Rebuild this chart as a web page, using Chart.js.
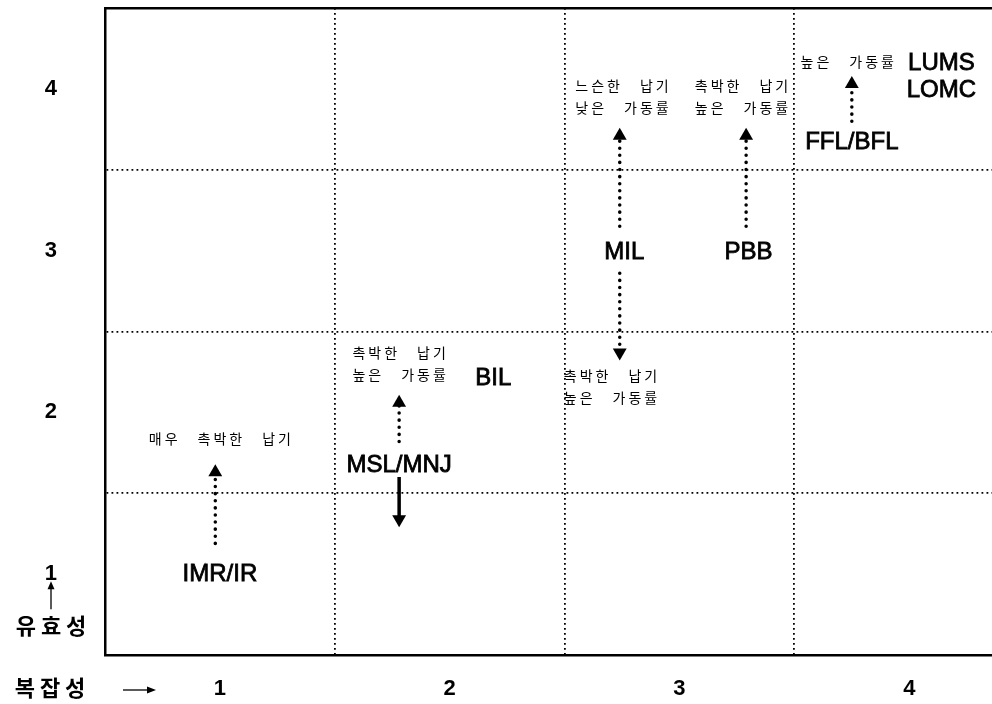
<!DOCTYPE html>
<html>
<head>
<meta charset="utf-8">
<script src="https://cdn.jsdelivr.net/npm/chart.js@4/dist/chart.umd.min.js"></script>
<style>
  html, body { margin: 0; padding: 0; background: #fff; overflow: hidden; }
  #wrap { width: 1000px; height: 704px; position: relative; }
</style>
</head>
<body>
<div id="wrap"><canvas id="c"></canvas></div>
<script>
// ---- data ----
const xTickLabels = ['1', '2', '3', '4'];
const yTickLabels = ['1', '2', '3', '4'];
const xAxisTitle = '복잡성';
const yAxisTitle = '유효성';

// object codes (Latin labels) at (complexity, effectiveness)
const codeLabels = ['IMR/IR', 'MSL/MNJ', 'BIL', 'MIL', 'PBB', 'FFL/BFL', 'LUMS', 'LOMC'];
const codeX      = [1.00,     1.78,      2.19,  2.76,  3.30,  3.75,      4.14,   4.14];
const codeY      = [1.00,     1.67,      2.21,  2.99,  2.99,  3.67,      4.16,   3.99];

// Korean notes
const noteLabels = ['매우 촉박한 납기', '촉박한 납기\n높은 가동률', '촉박한 납기\n높은 가동률',
                    '느슨한 납기\n낮은 가동률', '촉박한 납기\n높은 가동률', '높은 가동률'];
const noteX      = [1.00, 1.78, 2.70, 2.75, 3.27, 3.73];
const noteY      = [1.84, 2.30, 2.16, 3.95, 3.95, 4.17];

// arrows: x, start value, head value, solid?
const arrowX     = [0.98, 1.78, 1.78, 2.74, 2.74, 3.29, 3.75];
const arrowFrom  = [1.19, 1.82, 1.60, 3.15, 2.86, 3.15, 3.80];
const arrowTo    = [1.63, 2.06, 1.34, 3.71, 2.37, 3.71, 4.03];
const arrowSolid = [false, false, true, false, false, false, false];

// ---- datasets ----
const datasets = arrowX.map((x, i) => ({
  data: [{x: x, y: arrowFrom[i]}, {x: x, y: arrowTo[i]}],
  showLine: true,
  borderColor: '#000',
  backgroundColor: '#000',
  borderWidth: 3.5,
  borderDash: arrowSolid[i] ? [] : [0.1, 7],
  borderCapStyle: arrowSolid[i] ? 'butt' : 'round',
  pointRadius: [0, 8],
  pointStyle: 'triangle',
  pointRotation: arrowTo[i] > arrowFrom[i] ? 0 : 180,
  pointBorderWidth: 0,
  pointBackgroundColor: '#000',
  clip: false
}));

const latinFont = '"Liberation Sans", Arial, sans-serif';
const korFont = '"Noto Sans CJK KR", sans-serif';

function setLS(ctx, v) { if ('letterSpacing' in ctx) ctx.letterSpacing = v + 'px'; }

const annotate = {
  id: 'annotate',
  afterDatasetsDraw(chart) {
    const {ctx, scales: {x, y}} = chart;
    ctx.save();
    ctx.fillStyle = '#000';
    ctx.strokeStyle = '#000';
    ctx.textAlign = 'center';
    ctx.textBaseline = 'middle';
    // codes
    ctx.font = '24px ' + latinFont;
    ctx.lineWidth = 0.8;
    codeLabels.forEach((t, i) => {
      const px = x.getPixelForValue(codeX[i]), py = y.getPixelForValue(codeY[i]);
      ctx.fillText(t, px, py);
      ctx.strokeText(t, px, py);
    });
    // notes
    const ls = 3;
    ctx.font = '14px ' + korFont;
    setLS(ctx, ls);
    noteLabels.forEach((t, i) => {
      const lines = t.split('\n');
      const cx = x.getPixelForValue(noteX[i]);
      const cy = y.getPixelForValue(noteY[i]);
      const lh = 22;
      lines.forEach((ln, k) => {
        ctx.fillText(ln.replace(/ /g, '\u3000'), cx + ls / 2, cy + (k - (lines.length - 1) / 2) * lh);
      });
    });
    setLS(ctx, 0);
    ctx.restore();
  },
  afterDraw(chart) {
    const {ctx, scales: {x, y}} = chart;
    ctx.save();
    ctx.fillStyle = '#000';
    ctx.strokeStyle = '#000';
    ctx.textBaseline = 'middle';
    ctx.textAlign = 'center';
    // y axis title under tick "1" with small up arrow
    const p1 = y.getPixelForValue(1);
    const ax = 51;
    ctx.lineWidth = 1.3;
    ctx.beginPath();
    ctx.moveTo(ax, p1 + 35); ctx.lineTo(ax, p1 + 12); ctx.stroke();
    ctx.beginPath();
    ctx.moveTo(ax, p1 + 7); ctx.lineTo(ax - 3.5, p1 + 15); ctx.lineTo(ax + 3.5, p1 + 15); ctx.closePath(); ctx.fill();
    ctx.font = 'bold 22px ' + korFont;
    setLS(ctx, 5);
    ctx.fillText(yAxisTitle, ax + 2.5, y.bottom - 29);
    // x axis title with right arrow
    const ly = y.bottom + 33;
    ctx.fillText(xAxisTitle, 52.5, ly);
    setLS(ctx, 0);
    ctx.beginPath();
    ctx.moveTo(123, ly + 2); ctx.lineTo(148, ly + 2); ctx.stroke();
    ctx.beginPath();
    ctx.moveTo(156, ly + 2); ctx.lineTo(147, ly - 1.5); ctx.lineTo(147, ly + 5.5); ctx.closePath(); ctx.fill();
    ctx.restore();
  }
};

const gridTicks = (labels) => (scale) => {
  const vals = [];
  labels.forEach((l, i) => { vals.push(i + 1); if (i < labels.length - 1) vals.push(i + 1.5); });
  scale.ticks = vals.map(v => ({value: v}));
};
const gridColor = (c) => (c.tick && c.tick.value % 1 !== 0) ? '#000' : 'rgba(0,0,0,0)';
const fixSize = (w, h) => (s) => {
  if (w !== null) s.width = w;
  if (h !== null) s.height = h;
  s.paddingTop = 0; s.paddingBottom = 0; s.paddingLeft = 0; s.paddingRight = 0;
};

new Chart(document.getElementById('c'), {
  type: 'scatter',
  data: { datasets },
  options: {
    responsive: true,
    maintainAspectRatio: false,
    animation: false,
    events: [],
    layout: { padding: { top: 8, right: 0, left: 0, bottom: 0 } },
    plugins: { legend: { display: false }, tooltip: { enabled: false } },
    scales: {
      x: {
        type: 'linear', min: 0.5, max: 4.36,
        afterBuildTicks: gridTicks(xTickLabels),
        afterFit: fixSize(null, 49),
        grid: { color: gridColor, lineWidth: 1.8, drawTicks: false },
        border: { display: true, color: '#000', width: 2.5, dash: [1.8, 3.2] },
        ticks: {
          autoSkip: false, maxRotation: 0, padding: 21, color: '#000',
          font: { family: latinFont, size: 22, weight: 'bold' },
          callback: v => (v % 1 === 0 ? xTickLabels[v - 1] : '')
        }
      },
      xTop: {
        type: 'linear', position: 'top', min: 0.5, max: 4.36,
        afterFit: fixSize(null, 0),
        grid: { display: false, drawTicks: false },
        border: { display: true, color: '#000', width: 2.5 },
        ticks: { display: false }
      },
      y: {
        type: 'linear', min: 0.5, max: 4.5,
        afterBuildTicks: gridTicks(yTickLabels),
        afterFit: fixSize(105, null),
        grid: { color: gridColor, lineWidth: 1.8, drawTicks: false },
        border: { display: true, color: '#000', width: 2.5, dash: [1.8, 3.2] },
        ticks: {
          autoSkip: false, padding: 48, color: '#000',
          font: { family: latinFont, size: 22, weight: 'bold' },
          callback: v => (v % 1 === 0 ? yTickLabels[v - 1] : '')
        }
      }
    }
  },
  plugins: [annotate]
});
</script>
</body>
</html>
